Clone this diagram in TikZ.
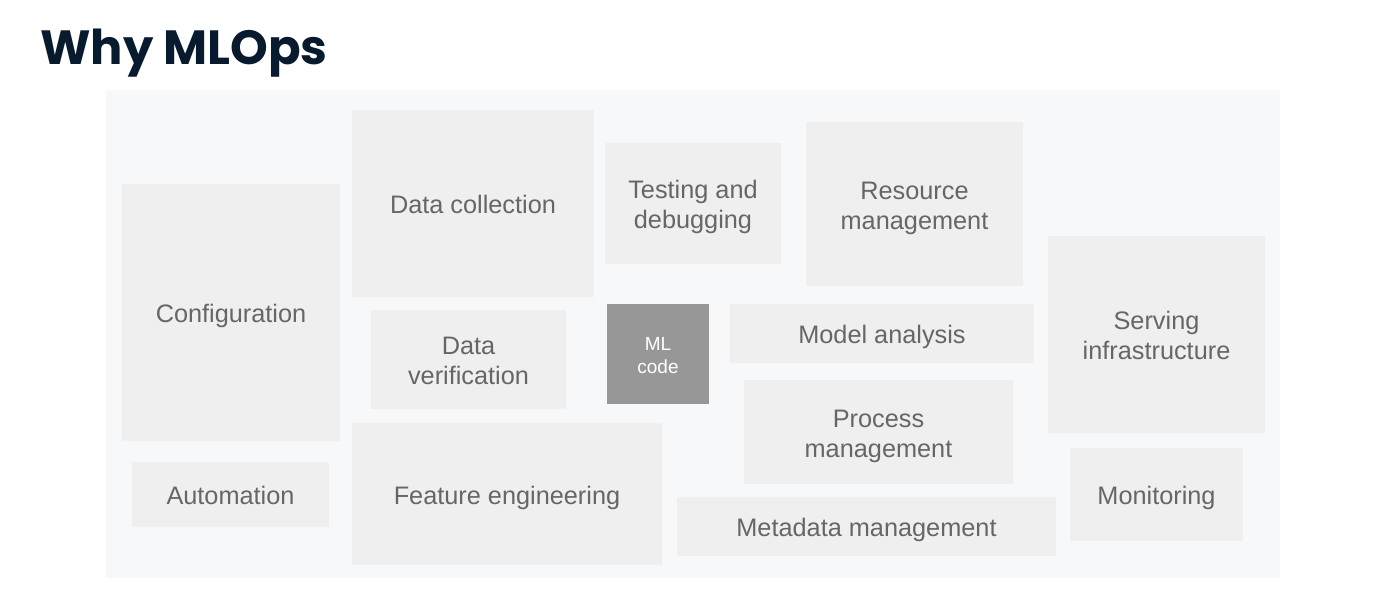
\documentclass[tikz,border=0pt]{standalone}
\usepackage{fontspec}
\setmainfont{Liberation Sans}
\newfontfamily\titlefont{Poppins}
\usepackage{xcolor}
\usetikzlibrary{positioning}
\definecolor{panelbg}{RGB}{247, 248, 250}
\definecolor{blockbg}{RGB}{239, 239, 239}
\definecolor{blocktext}{RGB}{102, 102, 102}
\definecolor{mlgray}{RGB}{151, 151, 151}
\definecolor{titlenavy}{RGB}{8, 26, 46}

% fixed top and bottom of the text, so every label sits at the same height
\newcommand{\toprule}{\rule{0pt}{30pt}}
\newcommand{\tworule}{\rule{0pt}{60pt}}
\newcommand{\mlrule}{\rule{0pt}{48pt}}
\newcommand{\botrule}{\rule[-10pt]{0pt}{10pt}}

\tikzset{
  blk/.style={fill=blockbg, draw=none, inner sep=0pt, align=center,
    text=blocktext, font=\fontsize{25.3}{30}\selectfont,
    execute at begin node=\toprule, execute at end node=\botrule},
  twoblk/.style={blk, execute at begin node=\tworule},
  mlblk/.style={blk, execute at begin node=\mlrule, fill=mlgray, text=white,
    font=\fontsize{19}{23}\selectfont}
}

\begin{document}
\begin{tikzpicture}[x=1pt, y=-1pt]
            \useasboundingbox (0,0) rectangle (1376,597);
            % Title
            \node[anchor=base west, inner sep=0pt, text=titlenavy,
              font=\titlefont\bfseries\fontsize{48}{56}\selectfont] (title) at (40,64) {Why MLOps};

            % Panel
            \fill[panelbg] (106,90) rectangle (1280,578);

            % Left column
            \node[blk, minimum width=218, minimum height=257] (config) at (231,312.5) {Configuration};
            \node[blk, minimum width=197, minimum height=65] (auto) at (230.5,494.5) {Automation};

            % Data blocks
            \node[blk, minimum width=242, minimum height=187] (collect) at (473,203.5) {Data collection};
            \node[twoblk, minimum width=195, minimum height=99] (verify) at (468.5,359.5) {Data\\verification};
            \node[blk, minimum width=310, minimum height=142] (feature) at (507,494) {Feature engineering};

            % Centre
            \node[mlblk, minimum width=102, minimum height=100] (mlcode) at (658,354) {ML\\code};
            \node[twoblk, minimum width=176, minimum height=121] (testing) at (693,203.5) {Testing and\\debugging};

            % Right blocks
            \node[twoblk, minimum width=217, minimum height=164] (resource) at (914.5,204) {Resource\\management};
            \node[blk, minimum width=304, minimum height=59] (analysis) at (882,333.5) {Model analysis};
            \node[twoblk, minimum width=269, minimum height=104] (process) at (878.5,432) {Process\\management};
            \node[blk, minimum width=379, minimum height=59] (metadata) at (866.5,526.5) {Metadata management};
            \node[twoblk, minimum width=217, minimum height=197] (serving) at (1156.5,334.5) {Serving\\infrastructure};
            \node[blk, minimum width=173, minimum height=93] (monitor) at (1156.5,494.5) {Monitoring};
        \end{tikzpicture}
\end{document}
